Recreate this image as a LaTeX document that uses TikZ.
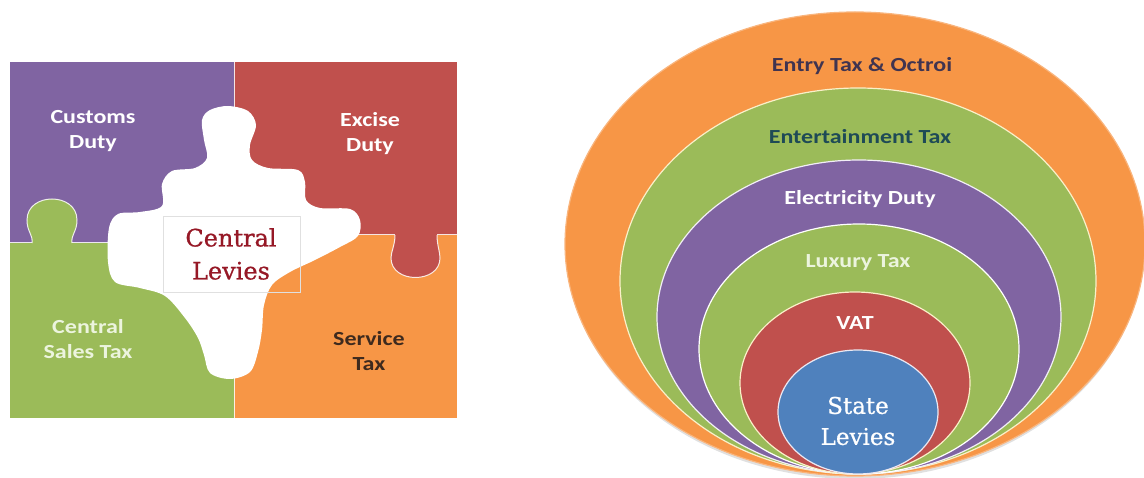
\documentclass[tikz,border=0pt]{standalone}
\usepackage{fontspec}
\newfontfamily\tilefont[FakeStretch=1.2]{Carlito}
\newfontfamily\levyfont[FakeBold=0.8]{DejaVu Serif}

\definecolor{pzpurple}{RGB}{128,100,162}
\definecolor{pzred}{RGB}{192,80,77}
\definecolor{pzgreen}{RGB}{155,187,89}
\definecolor{pzorange}{RGB}{247,150,70}
\definecolor{pzblue}{RGB}{79,129,189}
\definecolor{levyred}{RGB}{150,24,38}
\definecolor{paletext}{RGB}{236,244,222}
\definecolor{browntext}{RGB}{62,42,30}
\definecolor{entrytext}{RGB}{64,52,80}
\definecolor{enttext}{RGB}{30,74,86}
\definecolor{ringedge}{RGB}{250,240,200}

\tikzset{every picture/.style={line width=0.75pt}}
\tikzset{
  tile/.style={font=\fontsize{20}{25}\selectfont\tilefont\bfseries, align=center, text=white},
  band/.style={font=\fontsize{20}{24}\selectfont\tilefont\bfseries, text=white},
  levy/.style={font=\fontsize{24}{33}\selectfont\levyfont, align=center},
  ring/.style={fill=#1, draw=ringedge, line width=1.2pt},
  seam/.style={draw=white, line width=1pt, draw opacity=0.85},
}

\begin{document}
\begin{tikzpicture}[x=1pt, y=-1pt]
    \useasboundingbox (0,0) rectangle (1144,478);

    % jigsaw: four tiles
    \fill[pzpurple] (10,62) rectangle (234,243);
    \fill[pzred] (234,62) rectangle (457,235);
    \fill[pzgreen] (10,243) rectangle (234,418);
    \fill[pzorange] (234,235) rectangle (457,418);
    \draw[seam] (234,62) -- (234,418);
    \draw[seam] (10,243) -- (32,243) (72,243) -- (234,243);
    \draw[seam] (234,235) -- (395,235) (437,235) -- (457,235);

    % knobs
    \filldraw[seam, fill=pzgreen] (32,243) .. controls (33,234) and (27,232) .. (27,220)
        .. controls (27,192) and (77,192) .. (77,220)
        .. controls (77,232) and (71,234) .. (72,243);
    \filldraw[seam, fill=pzred] (395,235) .. controls (395,245) and (391,252) .. (391,258)
        .. controls (391,284) and (440,284) .. (440,258)
        .. controls (440,252) and (437,245) .. (437,235);

    % white hole in the middle
    \fill[white] plot[smooth cycle, tension=0.55] coordinates {
        (228,106) (248,111) (256,125) (250,145) (252,160) (268,168) (298,170)
        (305,182) (306,200) (320,208) (350,209) (360,220) (358,236) (340,247)
        (315,260) (290,272) (272,285) (264,305) (262,330) (258,352) (250,372)
        (230,379) (210,373) (204,355) (198,338) (185,318) (165,296) (140,288)
        (115,282) (108,262) (109,228) (118,214) (140,212) (162,206) (162,184)
        (172,171) (195,168) (207,158) (204,140) (202,120) (210,110)};

    \draw[black!12, line width=0.6pt] (163,216) rectangle (300,292);
    \node[levy, text=levyred] (central) at (231,254) {Central\\Levies};

    \node[tile] (customs) at (93,131) {Customs\\Duty};
    \node[tile] (excise) at (370,134) {Excise\\Duty};
    \node[tile, text=paletext] (cst) at (88,339) {Central\\Sales Tax};
    \node[tile, text=browntext] (service) at (369,351) {Service\\Tax};

    % nested levies
    \fill[black, opacity=0.12] (855,247) ellipse [x radius=289, y radius=232];
    \filldraw[ring=pzorange, draw=pzorange!70!white] (855,244) ellipse [x radius=290, y radius=232];
    \filldraw[ring=pzgreen] (858,281) ellipse [x radius=238, y radius=193];
    \filldraw[ring=pzpurple, draw=white!90!pzpurple] (859,317) ellipse [x radius=202, y radius=157];
    \filldraw[ring=pzgreen, draw=white] (859,349) ellipse [x radius=160, y radius=125];
    \filldraw[ring=pzred] (855,383) ellipse [x radius=115, y radius=91];
    \filldraw[ring=pzblue, draw=white!85!pzpurple] (858,412) ellipse [x radius=80, y radius=62];

    \node[band, text=entrytext] (entry) at (862,66) {Entry Tax \& Octroi};
    \node[band, text=enttext] (ent) at (860,137) {Entertainment Tax};
    \node[band] (elec) at (860,199) {Electricity Duty};
    \node[band, text=paletext] (lux) at (858,263) {Luxury Tax};
    \node[band] (vat) at (855,323) {VAT};
    \node[levy, text=white, font=\fontsize{23}{31}\selectfont\levyfont] (state) at (858,421) {State\\Levies};
\end{tikzpicture}
\end{document}
